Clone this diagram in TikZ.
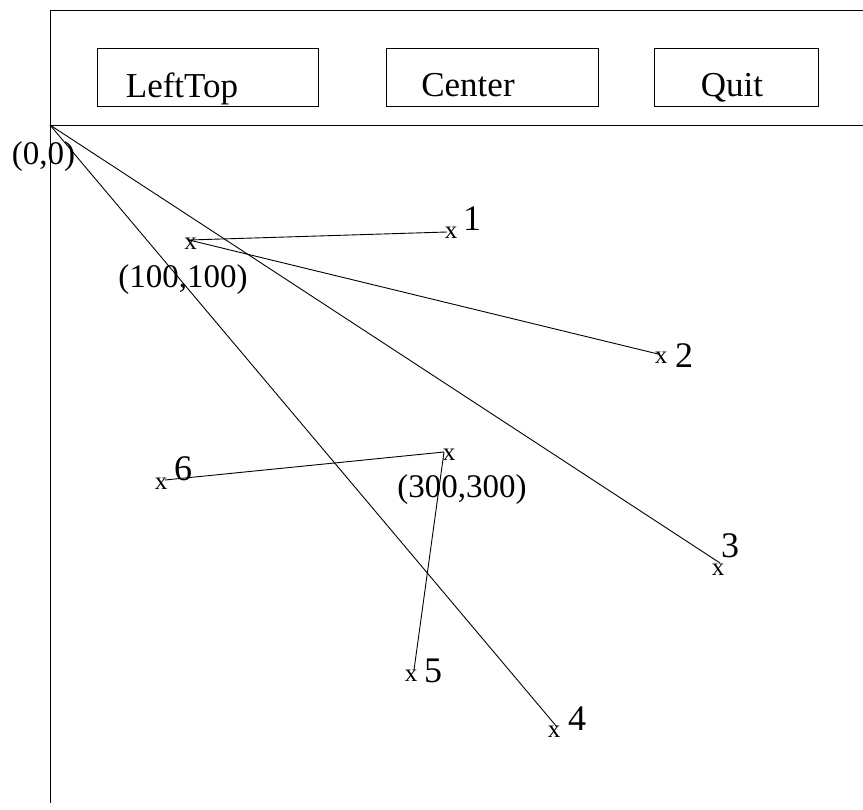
\documentclass[tikz,border=0pt]{standalone}
\usepackage{fontspec}
\setmainfont{Liberation Serif}
\begin{document}
\begin{tikzpicture}[x=1pt,y=-1pt,
  line/.style={line width=0.9pt},
  btn/.style={draw,line width=0.7pt,inner sep=0pt,anchor=north west},
  btext/.style={font=\fontsize{35}{40}\selectfont,inner sep=0pt,anchor=base},
  coordlab/.style={font=\fontsize{33}{38}\selectfont,inner sep=0pt},
  numlab/.style={font=\fontsize{36}{40}\selectfont,inner sep=0pt},
  xmark/.style={font=\fontsize{25}{28}\selectfont,inner sep=0pt}]
\useasboundingbox (0,0) rectangle (863,810);
% frame
\coordinate (tl) at (50,10);
\coordinate (tr) at (863,10);
\coordinate (bl) at (50,803);
\coordinate (ml) at (50,125);
\coordinate (mr) at (863,125);
\draw[line] (bl) -- (tl) -- (tr);
\draw[line] (ml) -- (mr);
% buttons
\node[btn,minimum width=221pt,minimum height=58pt] (b1) at (97,48) {};
\node[btn,minimum width=212pt,minimum height=58pt] (b2) at (385.5,48) {};
\node[btn,minimum width=164pt,minimum height=58pt] (b3) at (654,48) {};
\node[btext] (t1) at (182,98) {LeftTop};
\node[btext] (t2) at (468,97) {Center};
\node[btext] (t3) at (732,97) {Quit};
% points
\coordinate (O) at (50,125);
\coordinate (A) at (189,240);
\coordinate (B) at (444,452);
\coordinate (p1) at (447,232);
\coordinate (p2) at (658,354);
\coordinate (p3) at (720,563);
\coordinate (p4) at (557,727);
\coordinate (p5) at (414,670);
\coordinate (p6) at (165,480);
\draw[line] (O) -- (p3);
\draw[line] (O) -- (p4);
\draw[line] (A) -- (p1);
\draw[line] (A) -- (p2);
\draw[line] (B) -- (p6);
\draw[line] (B) -- (p5);
% markers
\node[xmark] (mA) at (190.5,244) {x};
\node[xmark] (mB) at (449,455) {x};
\node[xmark] (m1) at (451,233) {x};
\node[xmark] (m2) at (661,358) {x};
\node[xmark] (m3) at (718,570) {x};
\node[xmark] (m4) at (554,732) {x};
\node[xmark] (m5) at (411,676) {x};
\node[xmark] (m6) at (161,484) {x};
% labels
\node[coordlab] (lO) at (43.5,157) {(0,0)};
\node[coordlab] (lA) at (183,280) {(100,100)};
\node[coordlab] (lB) at (462,490) {(300,300)};
\node[numlab] (n1) at (472,219) {1};
\node[numlab] (n2) at (684,356) {2};
\node[numlab] (n3) at (730,546) {3};
\node[numlab] (n4) at (577,719) {4};
\node[numlab] (n5) at (433,671) {5};
\node[numlab] (n6) at (183,469) {6};
\end{tikzpicture}
\end{document}
